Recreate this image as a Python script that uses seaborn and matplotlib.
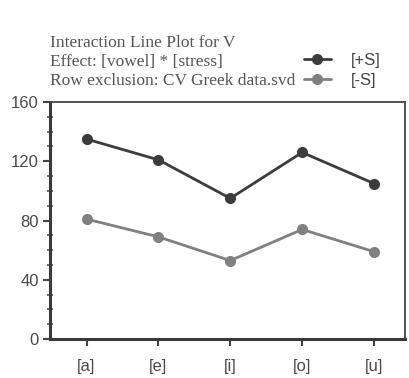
import matplotlib
matplotlib.use("Agg")
import matplotlib.pyplot as plt
from matplotlib.ticker import MultipleLocator
from matplotlib.lines import Line2D
import seaborn as sns
import pandas as pd

vowels = ["[a]", "[e]", "[i]", "[o]", "[u]"]
plus_s = [135, 121, 95, 126, 105]
minus_s = [81, 69, 53, 74, 59]
series_names = ["[+S]", "[-S]"]
title_lines = ["Interaction Line Plot for V",
               "Effect: [vowel] * [stress]",
               "Row exclusion: CV Greek data.svd"]
yticks = [0, 40, 80, 120, 160]

df = pd.DataFrame({
    "vowel": vowels * 2,
    "value": plus_s + minus_s,
    "stress": [series_names[0]] * len(vowels) + [series_names[1]] * len(vowels),
})

sns.set_style("white")
plt.rcParams["font.family"] = ["Liberation Sans", "DejaVu Sans"]

fig = plt.figure(figsize=(4.09, 3.78), dpi=100)
ax = fig.add_axes([0.122, 0.103, 0.868, 0.627])

palette = {series_names[0]: "#3c3c3c", series_names[1]: "#808080"}
sns.lineplot(data=df, x="vowel", y="value", hue="stress", palette=palette,
             marker="o", markersize=8, markeredgewidth=0, linewidth=2,
             sort=False, ax=ax, legend=False)

ax.set_xlim(-0.51, 4.43)
ax.set_ylim(0, 160)
ax.set_yticks(yticks)
ax.yaxis.set_minor_locator(MultipleLocator(10))
ax.set_xlabel("")
ax.set_ylabel("")
ax.tick_params(axis="both", which="major", direction="out", length=5, width=1.5,
               color="#444444", labelsize=12, labelcolor="#4a4a4a", pad=3, left=True, bottom=True)
ax.tick_params(axis="y", which="minor", direction="inout", length=4, width=1.2,
               color="#555555", left=True)
ax.tick_params(axis="x", pad=9)
for side in ["left", "bottom"]:
    ax.spines[side].set_linewidth(2.2)
    ax.spines[side].set_color("#3a3a3a")
for side in ["top", "right"]:
    ax.spines[side].set_linewidth(1.3)
    ax.spines[side].set_color("#444444")

serif = ["Liberation Serif", "DejaVu Serif"]
for i, line in enumerate(title_lines):
    fig.text(50 / 409, 1 - (43 + 19 * i) / 378, line, family=serif, fontsize=12.5,
             color="#555555", ha="left", va="center")

handles = [Line2D([], [], color=palette[n], marker="o", markersize=8, markeredgewidth=0,
                  linewidth=2) for n in series_names]
leg = fig.legend(handles, series_names, loc="upper left",
                 bbox_to_anchor=(304 / 409, 1 - 53 / 378), frameon=False,
                 fontsize=12, handlelength=1.6, handletextpad=1.2, labelspacing=0.3,
                 borderaxespad=0, borderpad=0)
for t in leg.get_texts():
    t.set_color("#444444")

fig.savefig("out.png", dpi=100, facecolor="white")
